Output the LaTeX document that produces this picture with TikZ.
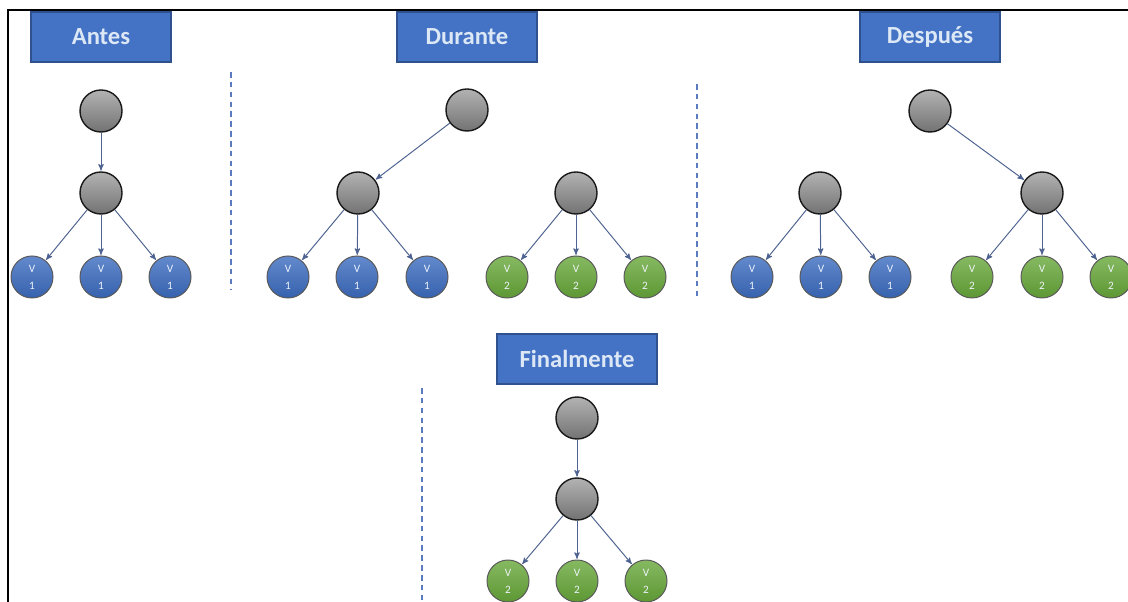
\documentclass[tikz,border=0pt]{standalone}
\usepackage{fontspec}
\setmainfont{Carlito}
\usepackage{tikz}
\usetikzlibrary{arrows}

\definecolor{titfill}{HTML}{4472C4}
\definecolor{titline}{HTML}{2F528F}
\definecolor{tittext}{HTML}{DDE8F6}
\definecolor{azul}{HTML}{3C6CC0}
\definecolor{verde}{HTML}{68A83A}
\definecolor{enlace}{HTML}{4E6391}
\definecolor{corte}{HTML}{5B7BC0}

\begin{document}
\begin{tikzpicture}[x=0.025cm,y=-0.025cm,->,>=stealth',
  titulo/.style={rectangle,draw=titline,fill=titfill,line width=1pt,minimum width=3.5cm,minimum height=1.25cm,
    text=tittext,font=\fontsize{17.5}{20}\selectfont\bfseries},
  nodo/.style={circle,draw=black!90,line width=1pt,minimum size=1.05cm,inner sep=0pt,
    top color=black!30,bottom color=black!55},
  hoja/.style={circle,draw=black!65,line width=0.7pt,minimum size=1.05cm,inner sep=0pt,
    text=white!92!azul,align=center,font=\fontsize{8}{12}\selectfont},
  v1/.style={hoja,top color=azul!80,bottom color=azul!90!black},
  v2/.style={hoja,top color=verde!80,bottom color=verde!90!black},
  separa/.style={-,draw=corte,line width=1.1pt,dash pattern=on 4pt off 3pt},
  every edge/.style={draw=enlace,line width=0.7pt,shorten >=0.5pt}]
\useasboundingbox (0,0) rectangle (1128,602);
\draw[-,line width=1.4pt] (8,602) -- (8,10) -- (1128,10);

% Antes
\node[titulo] (tA) at (101,37) {Antes};
\node[nodo] (a0) at (101,111) {};
\node[nodo] (a1) at (101,193) {};
\node[v1] (a11) at (32,277) {V\\1};
\node[v1] (a12) at (101,277) {V\\1};
\node[v1] (a13) at (170,277) {V\\1};
\path (a0) edge (a1)
      (a1) edge (a11) edge (a12) edge (a13);
\draw[separa] (231,72) -- (231,290);

% Durante
\node[titulo] (tD) at (467,37) {Durante};
\node[nodo] (d0) at (467,110) {};
\node[nodo] (d1) at (358,193) {};
\node[nodo] (d2) at (576,193) {};
\node[v1] (d11) at (288,277) {V\\1};
\node[v1] (d12) at (357,277) {V\\1};
\node[v1] (d13) at (427,277) {V\\1};
\node[v2] (d21) at (507,277) {V\\2};
\node[v2] (d22) at (576,277) {V\\2};
\node[v2] (d23) at (645,277) {V\\2};
\path (d0) edge (d1)
      (d1) edge (d11) edge (d12) edge (d13)
      (d2) edge (d21) edge (d22) edge (d23);
\draw[separa] (697,84) -- (697,300);

% Después
\node[titulo] (tP) at (930,37) {Después};
\node[nodo] (p0) at (930,111) {};
\node[nodo] (p1) at (820,193) {};
\node[nodo] (p2) at (1042,193) {};
\node[v1] (p11) at (752,277) {V\\1};
\node[v1] (p12) at (821,277) {V\\1};
\node[v1] (p13) at (890,277) {V\\1};
\node[v2] (p21) at (972,277) {V\\2};
\node[v2] (p22) at (1042,277) {V\\2};
\node[v2] (p23) at (1111,277) {V\\2};
\path (p0) edge (p2)
      (p1) edge (p11) edge (p12) edge (p13)
      (p2) edge (p21) edge (p22) edge (p23);

% Finalmente
\node[titulo,minimum width=4cm] (tF) at (577,359) {Finalmente};
\node[nodo] (f0) at (577,418) {};
\node[nodo] (f1) at (577,499) {};
\node[v2] (f21) at (508,581) {V\\2};
\node[v2] (f22) at (577,581) {V\\2};
\node[v2] (f23) at (646,581) {V\\2};
\path (f0) edge (f1)
      (f1) edge (f21) edge (f22) edge (f23);
\draw[separa] (422,388) -- (422,602);

\end{tikzpicture}
\end{document}
